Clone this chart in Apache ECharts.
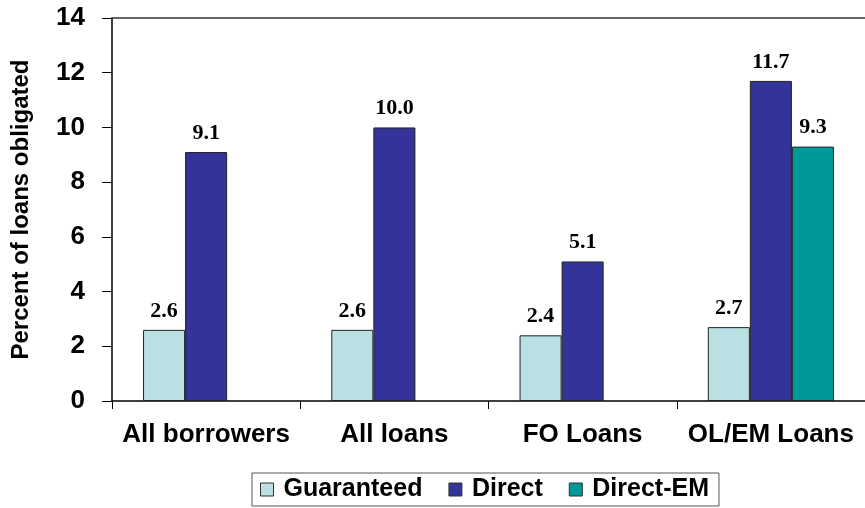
<!DOCTYPE html>
<html>
<head>
<meta charset="utf-8">
<script src="https://cdn.jsdelivr.net/npm/echarts@6/dist/echarts.min.js"></script>
<style>html,body{margin:0;padding:0;background:#fff}#c{width:865px;height:508px}</style>
</head>
<body>
<div id="c"></div>
<script>
const categories = ["All borrowers", "All loans", "FO Loans", "OL/EM Loans"];
const guaranteed = [2.6, 2.6, 2.4, 2.7];
const direct = [9.1, 10.0, 5.1, 11.7];
const directEM = [null, null, null, 9.3];
const yTicks = [0, 2, 4, 6, 8, 10, 12, 14];

const chart = echarts.init(document.getElementById('c'), null, {renderer: 'canvas'});
const sans = '"Liberation Sans", Arial, sans-serif';
const serif = '"Liberation Serif", "Times New Roman", serif';
const lbl = {
  show: true, position: 'top', distance: 8,
  fontFamily: serif, fontWeight: 'bold', fontSize: 22, color: '#000',
  formatter: p => (p.value == null ? '' : Number(p.value).toFixed(1))
};
function mk(name, data, color) {
  return {
    name, type: 'bar', data, xAxisIndex: 0, yAxisIndex: 0,
    barCategoryGap: '33%', barGap: '0%',
    itemStyle: {color, borderColor: '#222', borderWidth: 1},
    label: lbl
  };
}
chart.setOption({
  animation: false,
  grid: {left: 112, right: -1, top: 18, bottom: 107, containLabel: false},
  legend: {
    bottom: 2, left: 252,
    itemWidth: 13, itemHeight: 13, itemGap: 26,
    borderColor: '#555', borderWidth: 1, padding: [4, 10, 4, 8],
    icon: 'rect',
    itemStyle: {borderColor: '#333', borderWidth: 1},
    textStyle: {fontFamily: sans, fontWeight: 'bold', fontSize: 25, color: '#000', padding: [0, 0, 0, 5]},
    data: ['Guaranteed', 'Direct', 'Direct-EM']
  },
  xAxis: [{
    type: 'category', data: categories,
    axisLine: {lineStyle: {color: '#000', width: 1.5}},
    axisTick: {show: true, length: 8, inside: false, interval: 0, lineStyle: {color: '#000'}},
    axisLabel: {fontFamily: sans, fontWeight: 'bold', fontSize: 26, color: '#000', margin: 21, interval: 0}
  }, {
    type: 'category', data: categories, position: 'top',
    axisLine: {lineStyle: {color: '#333', width: 1.5}},
    axisTick: {show: false}, axisLabel: {show: false}
  }],
  yAxis: {
    type: 'value', min: yTicks[0], max: yTicks[yTicks.length - 1], interval: 2,
    name: 'Percent of loans obligated', nameLocation: 'middle', nameGap: 79,
    nameTextStyle: {fontFamily: sans, fontWeight: 'bold', fontSize: 24, color: '#000'},
    axisLine: {show: true, lineStyle: {color: '#000', width: 1.5}},
    axisTick: {show: true, length: 10, lineStyle: {color: '#000'}},
    splitLine: {show: false},
    axisLabel: {fontFamily: sans, fontWeight: 'bold', fontSize: 26, color: '#000', margin: 27}
  },
  series: [
    mk('Guaranteed', guaranteed, '#BBE0E3'),
    mk('Direct', direct, '#333399'),
    mk('Direct-EM', directEM, '#009999')
  ]
});
</script>
</body>
</html>
